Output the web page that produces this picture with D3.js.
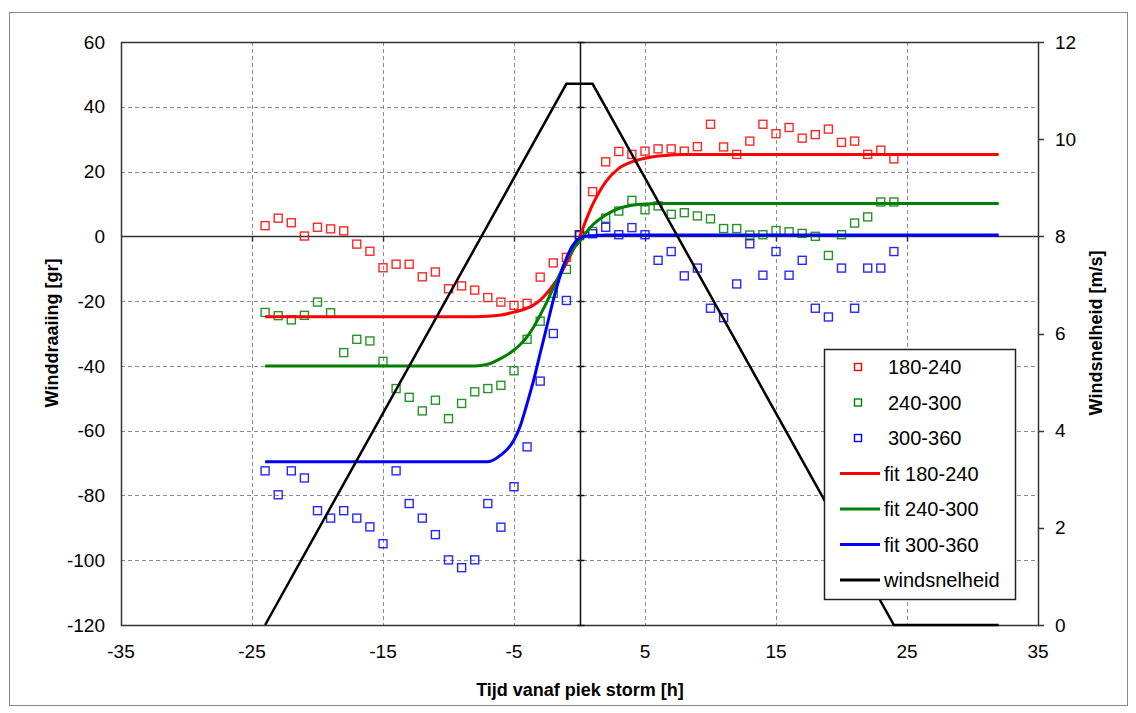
<!DOCTYPE html>
<html>
<head>
<meta charset="utf-8">
<script src="https://cdn.jsdelivr.net/npm/d3@7"></script>
<style>
  body { margin: 0; background: #fff; }
  text { font-family: "Liberation Sans", Arial, sans-serif; fill: #000; }
</style>
</head>
<body>
<div class="chart"></div>
<script>
// measured points, one per hour
const hours = [-24,-23,-22,-21,-20,-19,-18,-17,-16,-15,-14,-13,-12,-11,-10,-9,-8,-7,-6,-5,-4,-3,-2,-1,
  0,1,2,3,4,5,6,7,8,9,10,11,12,13,14,15,16,17,18,19,20,21,22,23,24];
const dir180 = [3.3,5.6,4.2,0.1,2.8,2.3,1.7,-2.4,-4.6,-9.7,-8.6,-8.6,-12.5,-11,-16.2,-15.3,-16.6,-18.9,-20.3,-21.3,-20.7,-12.6,-8.2,-6.5,
  0.5,13.8,23,26.2,25.3,26.3,27,27,26.3,27.7,34.6,27.6,25.3,29.4,34.6,31.7,33.6,30.3,31.4,33.1,29,29.4,25.3,26.6,23.9];
const dir240 = [-23.5,-24.5,-25.8,-24.4,-20.3,-23.6,-35.9,-31.8,-32.3,-38.6,-47,-49.7,-53.9,-50.6,-56.3,-51.6,-48,-47,-46,-41.5,-31.8,-26.2,-17.6,-10.2,
  0.2,1.5,5.6,7.8,11.1,8.2,9.4,6.8,7.3,6.3,5.4,2.4,2.4,0.4,0.5,1.8,1.4,0.9,0,-5.9,0.5,4.1,6,10.6,10.6];
const dir300 = [-72.4,-79.8,-72.4,-74.6,-84.7,-87,-84.7,-87,-89.7,-94.9,-72.4,-82.5,-87,-92.1,-99.9,-102.3,-99.9,-82.5,-89.8,-77.3,-65,-44.7,-30,-19.8,
  0.5,0.8,2.8,0.5,2.7,0.5,-7.4,-4.7,-12.2,-9.8,-22.2,-25.1,-14.7,-2.3,-12,-4.7,-12,-7.4,-22.2,-24.9,-9.8,-22.2,-9.8,-9.8,-4.7];

// fitted curves
const fitHours = [-24,-8,-7,-6,-5,-4.5,-4,-3.5,-3,-2.5,-2,-1.5,-1,-0.5,0,0.5,1,1.5,2,3,4,5,6,7,8,32];
const fit180 = [-24.8,-24.8,-24.7,-24.3,-23.4,-22.9,-22.2,-21.2,-19.7,-17.6,-15,-12,-8.3,-4.3,-0.3,5,9.8,13.6,16.8,21,23,24.1,24.8,25.1,25.3,25.3];
const fit240 = [-40,-40,-39.5,-37.7,-35.1,-33.3,-31,-28,-24.3,-20.3,-16,-11.6,-7.3,-4,-1.6,1.2,3.5,5.2,6.6,8.6,9.6,10,10.1,10.1,10.1,10.1];
const fit300 = [-69.6,-69.6,-69.6,-67.5,-62.9,-58.3,-51.6,-44.4,-36.1,-27.9,-19.7,-12.5,-6.8,-2.7,-0.6,0,0.2,0.3,0.4,0.4,0.4,0.4,0.4,0.4,0.4,0.4];

// wind speed (right axis)
const windHours = [-24,-1,1,24,32];
const windSpeed = [0,11.14,11.14,0,0];

const xTicks = [-35,-25,-15,-5,5,15,25,35];
const yTicks = [-120,-100,-80,-60,-40,-20,0,20,40,60];
const y2Ticks = [0,2,4,6,8,10,12];

const legendNames = ['180-240','240-300','300-360','fit 180-240','fit 240-300','fit 300-360','windsnelheid'];
const colors = ['#ff0000','#008000','#0000ff','#ff0000','#008000','#0000ff','#000000'];

const W = 1136, H = 713;
const plot = {left: 121, right: 1038, top: 42, bottom: 625};

const svg = d3.select('.chart').append('svg')
  .attr('width', W)
  .attr('height', H);

svg.append('rect')
  .attr('x', 9.5).attr('y', 12.5)
  .attr('width', 1118).attr('height', 693)
  .attr('fill', '#fff')
  .attr('stroke', '#888');

const xScale = d3.scaleLinear().domain([-35, 35]).range([plot.left, plot.right]);
const yScale = d3.scaleLinear().domain([-120, 60]).range([plot.bottom, plot.top]);
const y2Scale = d3.scaleLinear().domain([0, 12]).range([plot.bottom, plot.top]);

// grid
svg.append('g').selectAll('line')
  .data(xTicks.slice(1, -1))
  .enter().append('line')
  .attr('x1', d => Math.round(xScale(d)) + 0.5).attr('x2', d => Math.round(xScale(d)) + 0.5)
  .attr('y1', plot.top).attr('y2', plot.bottom)
  .attr('stroke', '#8c8c8c').attr('stroke-dasharray', '4,3');

svg.append('g').selectAll('line')
  .data(yTicks.filter(d => d !== 0 && d !== 60 && d !== -120))
  .enter().append('line')
  .attr('y1', d => Math.round(yScale(d)) + 0.5).attr('y2', d => Math.round(yScale(d)) + 0.5)
  .attr('x1', plot.left).attr('x2', plot.right)
  .attr('stroke', '#8c8c8c').attr('stroke-dasharray', '4,3');

// plot frame
svg.append('rect')
  .attr('x', plot.left + 0.5).attr('y', plot.top + 0.5)
  .attr('width', plot.right - plot.left).attr('height', plot.bottom - plot.top)
  .attr('fill', 'none').attr('stroke', '#333').attr('stroke-width', 1.5);

// axes crossing at zero
const x0 = Math.round(xScale(0)) + 0.5, y0 = Math.round(yScale(0)) + 0.5;
svg.append('line').attr('x1', plot.left).attr('x2', plot.right).attr('y1', y0).attr('y2', y0)
  .attr('stroke', '#333').attr('stroke-width', 1.5);
svg.append('line').attr('x1', x0).attr('x2', x0).attr('y1', plot.top).attr('y2', plot.bottom)
  .attr('stroke', '#111').attr('stroke-width', 1.5);

svg.append('g').selectAll('line')
  .data(xTicks.slice(1, -1))
  .enter().append('line')
  .attr('x1', d => Math.round(xScale(d)) + 0.5).attr('x2', d => Math.round(xScale(d)) + 0.5)
  .attr('y1', y0).attr('y2', y0 + 5)
  .attr('stroke', '#333').attr('stroke-width', 1.5);

svg.append('g').selectAll('line')
  .data(yTicks.filter(d => d !== 0))
  .enter().append('line')
  .attr('y1', d => Math.round(yScale(d)) + 0.5).attr('y2', d => Math.round(yScale(d)) + 0.5)
  .attr('x1', x0 - 3).attr('x2', x0 + 4)
  .attr('stroke', '#111').attr('stroke-width', 1.5);

// right axis ticks
svg.append('g').selectAll('line')
  .data(y2Ticks)
  .enter().append('line')
  .attr('y1', d => Math.round(y2Scale(d)) + 0.5).attr('y2', d => Math.round(y2Scale(d)) + 0.5)
  .attr('x1', plot.right).attr('x2', plot.right + 6)
  .attr('stroke', '#333').attr('stroke-width', 1.5);

// tick labels
svg.append('g').selectAll('text')
  .data(yTicks).enter().append('text')
  .attr('x', 105).attr('y', d => yScale(d))
  .attr('dy', '0.35em').attr('text-anchor', 'end')
  .style('font-size', '19px')
  .text(d => d);

svg.append('g').selectAll('text')
  .data(y2Ticks).enter().append('text')
  .attr('x', 1055).attr('y', d => y2Scale(d))
  .attr('dy', '0.35em')
  .style('font-size', '19px')
  .text(d => d);

svg.append('g').selectAll('text')
  .data(xTicks).enter().append('text')
  .attr('x', d => xScale(d)).attr('y', 651)
  .attr('dy', '0.35em').attr('text-anchor', 'middle')
  .style('font-size', '19px')
  .text(d => d);

// axis titles
svg.append('text')
  .attr('x', 580).attr('y', 690).attr('dy', '0.35em')
  .attr('text-anchor', 'middle')
  .style('font-size', '18px').style('font-weight', 'bold')
  .text('Tijd vanaf piek storm [h]');

svg.append('text')
  .attr('transform', 'translate(52,333) rotate(-90)')
  .attr('dy', '0.35em').attr('text-anchor', 'middle')
  .style('font-size', '18px').style('font-weight', 'bold')
  .text('Winddraaiing [gr]');

svg.append('text')
  .attr('transform', 'translate(1096,333) rotate(-90)')
  .attr('dy', '0.35em').attr('text-anchor', 'middle')
  .style('font-size', '18px').style('font-weight', 'bold')
  .text('Windsnelheid [m/s]');

// scatter points
const scatterSets = [dir180, dir240, dir300];
scatterSets.forEach((vals, k) => {
  svg.append('g').selectAll('rect')
    .data(vals).enter().append('rect')
    .attr('x', (d, i) => xScale(hours[i]) - 4)
    .attr('y', d => yScale(d) - 4)
    .attr('width', 8).attr('height', 8)
    .attr('fill', 'none')
    .attr('stroke', colors[k]).attr('stroke-width', 1.4)
    .attr('opacity', 0.85);
});

// fitted lines
const fitLine = d3.line()
  .x(d => xScale(d[0]))
  .y(d => yScale(d[1]))
  .curve(d3.curveMonotoneX);

[fit180, fit240, fit300].forEach((vals, k) => {
  svg.append('path')
    .datum(fitHours.map((h, i) => [h, vals[i]]))
    .attr('d', fitLine)
    .attr('fill', 'none')
    .attr('stroke', colors[k + 3])
    .attr('stroke-width', 3);
});

// wind speed
const windLine = d3.line()
  .x(d => xScale(d[0]))
  .y(d => y2Scale(d[1]));

svg.append('path')
  .datum(windHours.map((h, i) => [h, windSpeed[i]]))
  .attr('d', windLine)
  .attr('fill', 'none')
  .attr('stroke', '#000')
  .attr('stroke-width', 2.5);

// legend
const lg = svg.append('g').attr('transform', 'translate(824,349)');
lg.append('rect')
  .attr('x', 0.5).attr('y', 0.5)
  .attr('width', 191).attr('height', 250)
  .attr('fill', '#fff').attr('stroke', '#222').attr('stroke-width', 1.5);

legendNames.forEach((name, i) => {
  const cy = 18 + i * 35.5;
  if (i < 3) {
    lg.append('rect')
      .attr('x', 30.5).attr('y', cy - 3.5)
      .attr('width', 7).attr('height', 7)
      .attr('fill', 'none')
      .attr('stroke', colors[i]).attr('stroke-width', 1.4);
    lg.append('text')
      .attr('x', 64).attr('y', cy).attr('dy', '0.35em')
      .style('font-size', '20px')
      .text(name);
  } else {
    lg.append('line')
      .attr('x1', 16).attr('x2', 56)
      .attr('y1', cy).attr('y2', cy)
      .attr('stroke', colors[i]).attr('stroke-width', 3);
    lg.append('text')
      .attr('x', 60).attr('y', cy).attr('dy', '0.35em')
      .style('font-size', '20px')
      .text(name);
  }
});
</script>
</body>
</html>
